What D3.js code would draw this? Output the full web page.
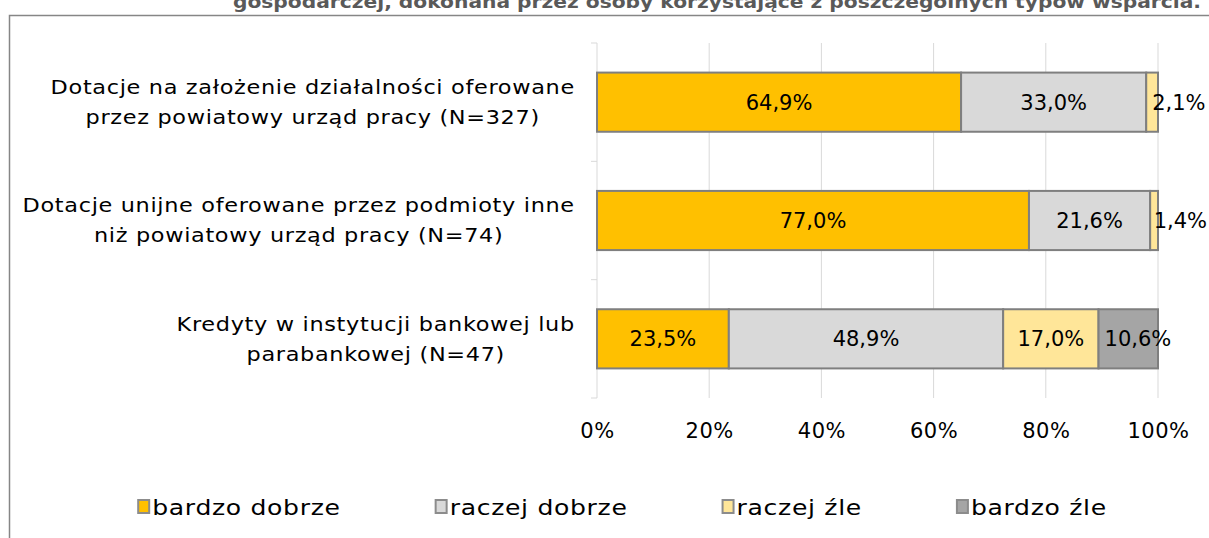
<!DOCTYPE html>
<html>
<head>
<meta charset="utf-8">
<script src="https://cdn.jsdelivr.net/npm/d3@7"></script>
<style>
  body { margin: 0; background: #fff; }
  svg { display: block; font-family: "DejaVu Sans", sans-serif; }
</style>
</head>
<body>
<div id="chart"></div>
<script>
// categories (each label split in two lines, as in the original)
const categories = [
  ["Dotacje na założenie działalności oferowane", "przez powiatowy urząd pracy (N=327)"],
  ["Dotacje unijne oferowane przez podmioty inne", "niż powiatowy urząd pracy (N=74)"],
  ["Kredyty w instytucji bankowej lub", "parabankowej (N=47)"]
];
const seriesNames = ["bardzo dobrze", "raczej dobrze", "raczej źle", "bardzo źle"];
const bardzoDobrze = [64.9, 77.0, 23.5];
const raczejDobrze = [33.0, 21.6, 48.9];
const raczejZle = [2.1, 1.4, 17.0];
const bardzoZle = [0, 0, 10.6];
const seriesColors = ["#FFC000", "#D9D9D9", "#FFE699", "#A5A5A5"];
const xTicks = [0, 20, 40, 60, 80, 100];
const titleText = "gospodarczej, dokonana przez osoby korzystające z poszczególnych typów wsparcia.";

document.addEventListener("DOMContentLoaded", function() {
  const width = 1209;
  const height = 538;
  const stretch = 1.12; // the original font is wider than DejaVu

  const svg = d3.select("#chart").append("svg")
    .attr("width", width)
    .attr("height", height);

  // cut-off title at the top
  svg.append("text")
    .attr("x", 1201)
    .attr("y", 8)
    .attr("text-anchor", "end")
    .attr("font-weight", "bold")
    .attr("font-size", 18)
    .attr("fill", "#595959")
    .attr("textLength", 968)
    .attr("lengthAdjust", "spacingAndGlyphs")
    .text(titleText);

  // chart frame
  svg.append("rect")
    .attr("x", 9.5)
    .attr("y", 15.5)
    .attr("width", 1260)
    .attr("height", 600)
    .attr("fill", "none")
    .attr("stroke", "#868686")
    .attr("stroke-width", 1.5);

  const x = d3.scaleLinear().domain([0, 100]).range([597, 1158]);
  const y = d3.scaleBand()
    .domain(d3.range(categories.length))
    .range([43, 398])
    .paddingInner(0.5)
    .paddingOuter(0.25);

  // gridlines
  svg.append("g")
    .selectAll("line")
    .data(xTicks.slice(1))
    .join("line")
    .attr("x1", d => x(d)).attr("x2", d => x(d))
    .attr("y1", 43).attr("y2", 398)
    .attr("stroke", "#D9D9D9")
    .attr("stroke-width", 1);

  // category axis
  const yAxis = svg.append("g");
  yAxis.append("line")
    .attr("x1", x(0)).attr("x2", x(0))
    .attr("y1", 43).attr("y2", 398)
    .attr("stroke", "#D9D9D9");
  const bandEdges = d3.range(categories.length + 1).map(i => 43 + i * (398 - 43) / categories.length);
  yAxis.selectAll(".tk")
    .data(bandEdges)
    .join("line")
    .attr("x1", x(0) - 6).attr("x2", x(0))
    .attr("y1", d => d).attr("y2", d => d)
    .attr("stroke", "#D9D9D9");

  // stack the series
  const rows = categories.map((c, i) => ({
    i: i,
    "bardzo dobrze": bardzoDobrze[i],
    "raczej dobrze": raczejDobrze[i],
    "raczej źle": raczejZle[i],
    "bardzo źle": bardzoZle[i]
  }));
  const stacked = d3.stack().keys(seriesNames)(rows);

  const layers = svg.append("g")
    .selectAll("g")
    .data(stacked)
    .join("g")
    .attr("fill", (d, k) => seriesColors[k]);

  layers.selectAll("rect")
    .data(d => d.filter(s => s[1] - s[0] > 0))
    .join("rect")
    .attr("x", s => x(s[0]))
    .attr("width", s => x(s[1]) - x(s[0]))
    .attr("y", s => y(s.data.i))
    .attr("height", y.bandwidth())
    .attr("stroke", "#7F7F7F")
    .attr("stroke-width", 2);

  // data labels
  const fmt = v => v.toFixed(1).replace(".", ",") + "%";
  layers.selectAll("text")
    .data(d => d.filter(s => s[1] - s[0] > 0))
    .join("text")
    .attr("y", s => y(s.data.i) + y.bandwidth() / 2)
    .attr("dy", "0.35em")
    .attr("text-anchor", "middle")
    .attr("font-size", 21)
    .attr("fill", "#000")
    .text(s => fmt(s[1] - s[0]))
    .attr("x", function(s) {
      const w = this.getComputedTextLength();
      const c = (x(s[0]) + x(s[1])) / 2;
      return Math.min(Math.max(c, x(s[0]) + w / 2 + 6), width - w / 2 - 2);
    });

  // category labels, centred as a block whose right edge is at 575
  const catG = svg.append("g");
  categories.forEach((lines, i) => {
    const g = catG.append("g");
    const t = g.append("text")
      .attr("font-size", 20)
      .attr("letter-spacing", 0.6)
      .attr("fill", "#000")
      .attr("text-anchor", "middle");
    const cy = y(i) + y.bandwidth() / 2;
    lines.forEach((ln, j) => {
      t.append("tspan").attr("y", cy + (j - 0.5) * 30).attr("dy", "0.35em").text(ln);
    });
    let maxW = 0;
    t.selectAll("tspan").each(function() { maxW = Math.max(maxW, this.getComputedTextLength()); });
    t.selectAll("tspan").attr("x", -maxW / 2);
    g.attr("transform", `translate(575, 0) scale(${stretch}, 1)`);
  });

  // x axis labels
  const xAxis = d3.axisBottom(x)
    .tickValues(xTicks)
    .tickFormat(d => d + "%")
    .tickSize(0)
    .tickPadding(0);
  const xg = svg.append("g")
    .attr("transform", "translate(0, 431)")
    .call(xAxis);
  xg.select(".domain").remove();
  xg.selectAll("text")
    .attr("font-size", 21)
    .attr("letter-spacing", 0.5)
    .attr("font-family", "\"DejaVu Sans\", sans-serif")
    .attr("fill", "#000")
    .attr("dy", "0.35em");

  // legend
  const leg = svg.append("g");
  const items = leg.selectAll("g")
    .data(seriesNames)
    .join("g");
  items.append("rect")
    .attr("x", 1).attr("y", -7)
    .attr("width", 11).attr("height", 13)
    .attr("fill", (d, k) => seriesColors[k])
    .attr("stroke", "#8C8C8C")
    .attr("stroke-width", 2);
  items.append("text")
    .attr("transform", `translate(15, 0) scale(${stretch + 0.02}, 1)`)
    .attr("dy", "0.35em")
    .attr("font-size", 22)
    .attr("letter-spacing", 0.6)
    .attr("fill", "#000")
    .text(d => d);
  const gap = 94;
  const widths = [];
  items.each(function() {
    const tw = d3.select(this).select("text").node().getComputedTextLength();
    widths.push(15 + tw * (stretch + 0.02));
  });
  const total = d3.sum(widths) + gap * (widths.length - 1);
  let cx = 622 - total / 2;
  items.attr("transform", (d, k) => {
    const t = `translate(${cx}, 507)`;
    cx += widths[k] + gap;
    return t;
  });
});
</script>
</body>
</html>
